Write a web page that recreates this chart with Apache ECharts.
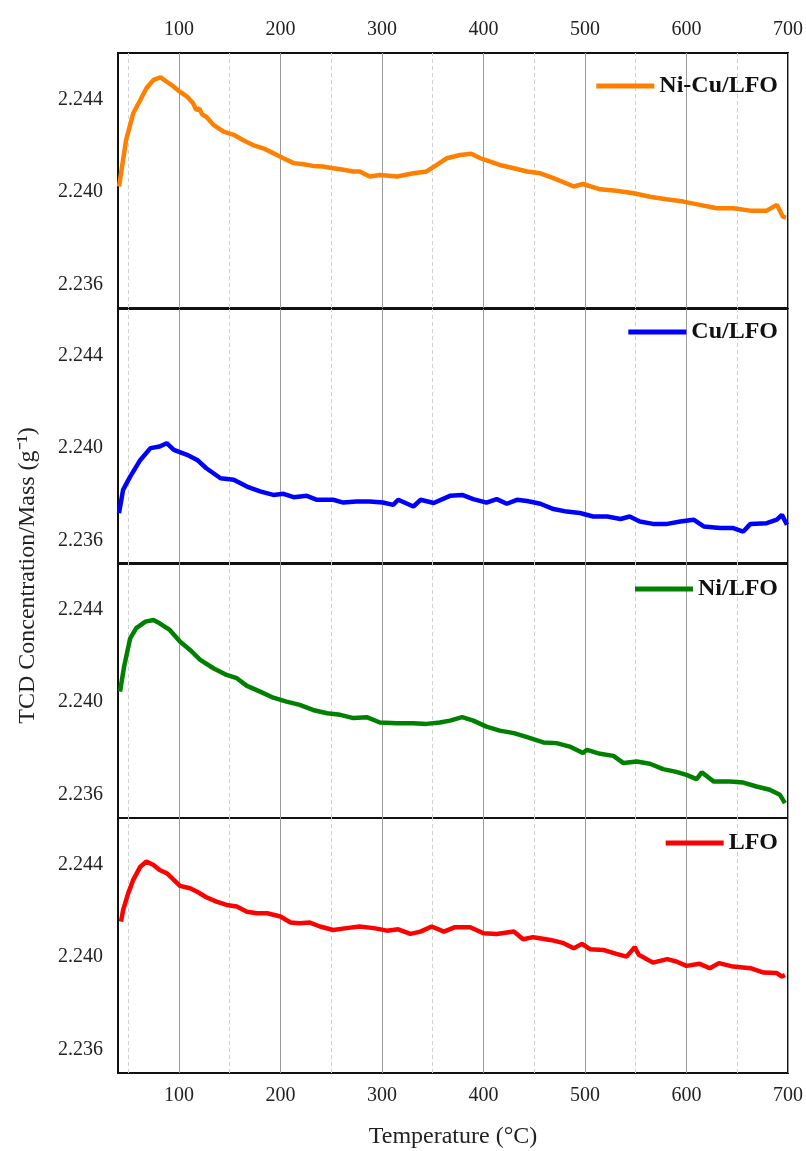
<!DOCTYPE html>
<html>
<head>
<meta charset="utf-8">
<title>TCD profiles</title>
<script src="https://cdn.jsdelivr.net/npm/echarts@6/dist/echarts.min.js"></script>
<style>
  html, body { margin: 0; padding: 0; background: #fff; }
  #chart { width: 806px; height: 1151px; }
</style>
</head>
<body>
<div id="chart"></div>
<script>
// [temperature (°C), TCD concentration / mass]
const nicuLfo = [[41,2.24024],[44,2.2411],[48,2.24225],[55,2.2434],[62,2.24397],[68,2.24448],[75,2.24484],[82,2.24495],[88,2.24476],[94,2.24458],[101,2.24433],[108,2.24412],[114,2.24383],[117,2.24355],[120,2.2436],[123,2.24335],[127,2.24325],[134,2.2429],[144,2.24261],[154,2.24247],[163,2.24225],[173,2.24203],[183,2.24189],[193,2.24168],[203,2.24146],[213,2.24125],[223,2.2412],[232,2.24113],[242,2.2411],[252,2.24103],[262,2.24096],[272,2.24089],[278,2.24089],[288,2.24067],[298,2.24074],[315,2.24067],[331,2.24081],[344,2.24089],[354,2.24117],[364,2.24146],[377,2.2416],[388,2.24165],[397,2.24146],[406,2.24132],[416,2.24117],[430,2.24103],[443,2.24089],[456,2.24081],[469,2.2406],[489,2.24024],[498,2.24035],[515,2.24012],[531,2.24006],[548,2.23995],[564,2.2398],[580,2.23969],[597,2.23959],[613,2.23945],[630,2.2393],[646,2.2393],[663,2.2392],[679,2.2392],[689,2.23945],[695,2.23894],[698,2.2389]];
const cuLfo = [[41,2.23719],[45,2.2382],[52,2.23877],[62,2.23949],[72,2.24],[81,2.24007],[88,2.24021],[95,2.23992],[108,2.23971],[118,2.23949],[127,2.23913],[141,2.2387],[154,2.23863],[167,2.23834],[180,2.23813],[193,2.23798],[203,2.23803],[213,2.23788],[226,2.23794],[236,2.23777],[252,2.23777],[262,2.23765],[275,2.2377],[288,2.2377],[301,2.23765],[311,2.23755],[316,2.23777],[331,2.23748],[338,2.23777],[351,2.23763],[367,2.23794],[379,2.23798],[390,2.2378],[403,2.23765],[413,2.2378],[423,2.2376],[433,2.23777],[443,2.23772],[456,2.2376],[469,2.23737],[482,2.23726],[495,2.2372],[508,2.23705],[522,2.23705],[535,2.23694],[544,2.23705],[554,2.23683],[567,2.23673],[581,2.23673],[594,2.23683],[607,2.23691],[617,2.23662],[633,2.23655],[646,2.23655],[656,2.2364],[663,2.23673],[679,2.23676],[689,2.23691],[694,2.23712],[699,2.23669]];
const niLfo = [[42,2.24045],[46,2.24153],[52,2.24275],[58,2.24319],[67,2.24347],[75,2.24354],[81,2.2434],[91,2.24311],[101,2.24261],[111,2.24225],[121,2.24182],[134,2.24146],[147,2.24117],[157,2.24103],[167,2.2407],[180,2.24045],[193,2.24019],[206,2.24002],[219,2.23988],[232,2.23966],[246,2.23952],[259,2.23945],[272,2.23931],[285,2.23935],[298,2.23912],[315,2.23909],[331,2.23909],[344,2.23906],[357,2.23912],[367,2.2392],[379,2.23935],[390,2.2392],[403,2.23894],[416,2.23877],[430,2.23866],[443,2.23849],[459,2.23826],[472,2.23823],[485,2.23808],[498,2.2378],[502,2.23794],[515,2.23777],[528,2.23768],[538,2.23737],[551,2.23744],[564,2.23734],[577,2.23711],[590,2.23699],[600,2.23686],[610,2.23668],[615,2.23697],[627,2.23657],[643,2.23657],[656,2.23653],[669,2.23636],[682,2.23622],[692,2.236],[697,2.23564]];
const lfo = [[43,2.24153],[45,2.24203],[50,2.24275],[55,2.24333],[62,2.2439],[68,2.24412],[75,2.24397],[81,2.24376],[88,2.24362],[95,2.24333],[101,2.24307],[111,2.24297],[118,2.24282],[127,2.24258],[137,2.24239],[147,2.24225],[157,2.24218],[167,2.24196],[177,2.24189],[187,2.24189],[200,2.24175],[210,2.24149],[219,2.24146],[229,2.24149],[239,2.24132],[252,2.24117],[265,2.24125],[278,2.24132],[292,2.24125],[305,2.24114],[316,2.2412],[328,2.241],[338,2.2411],[349,2.24132],[361,2.2411],[372,2.24129],[387,2.24129],[400,2.24103],[413,2.241],[430,2.2411],[439,2.24077],[449,2.24086],[466,2.24074],[479,2.2406],[489,2.24038],[497,2.24057],[505,2.24034],[518,2.24031],[531,2.24014],[541,2.24002],[549,2.24043],[553,2.2401],[567,2.23976],[581,2.23991],[590,2.23981],[600,2.23962],[613,2.23971],[623,2.23952],[632,2.23974],[646,2.23959],[663,2.23952],[676,2.23933],[689,2.23931],[694,2.23916],[697,2.23923]];

const seriesNames = ['Ni-Cu/LFO', 'Cu/LFO', 'Ni/LFO', 'LFO'];
const seriesData = [nicuLfo, cuLfo, niLfo, lfo];
const seriesColors = ['#ff8000', '#0000ff', '#008000', '#ff0000'];

const xTicks = [100, 200, 300, 400, 500, 600, 700];
const xMinorLines = [50, 150, 250, 350, 450, 550, 650];
const yTicks = [2.236, 2.240, 2.244];

const FONT = '"Liberation Serif", "Times New Roman", serif';
const panelTops = [53, 309, 563, 818];
const panelH = 255;
const legendTops = [74, 320, 577, 831];

const chart = echarts.init(document.getElementById('chart'));

const grids = [], xAxes = [], yAxes = [], series = [], legends = [];

// vertical grid lines, drawn as mark lines through the x scale
const gridLines = xTicks.map(v => ({
  xAxis: v, lineStyle: { color: '#9a9a9a', width: 1, type: 'solid' }
})).concat(xMinorLines.map(v => ({
  xAxis: v, lineStyle: { color: '#cfcfcf', width: 1, type: [4, 3] }
})));

for (let i = 0; i < 4; i++) {
  grids.push({
    left: 118, right: 18, top: panelTops[i], height: panelH,
    show: true, borderColor: '#111', borderWidth: 2, backgroundColor: 'transparent'
  });
  const isTop = i === 0, isBottom = i === 3;
  xAxes.push({
    type: 'value', gridIndex: i, min: 40, max: 700,
    position: isTop ? 'top' : 'bottom',
    axisLine: { show: false }, axisTick: { show: false }, splitLine: { show: false },
    axisLabel: {
      show: isTop || isBottom, customValues: xTicks, margin: 13,
      color: '#222', fontFamily: FONT, fontSize: 20
    },
    name: isBottom ? 'Temperature (°C)' : '',
    nameLocation: 'middle', nameGap: 52,
    nameTextStyle: { color: '#222', fontFamily: FONT, fontSize: 24 }
  });
  yAxes.push({
    type: 'value', gridIndex: i, min: 2.235, max: 2.246,
    axisLine: { show: false }, axisTick: { show: false }, splitLine: { show: false },
    axisLabel: {
      customValues: yTicks, margin: 15, color: '#222', fontFamily: FONT, fontSize: 20,
      formatter: v => v.toFixed(3)
    }
  });
  series.push({
    name: seriesNames[i], type: 'line', xAxisIndex: i, yAxisIndex: i,
    data: seriesData[i], showSymbol: false, symbol: 'none', z: 3,
    lineStyle: { color: seriesColors[i], width: 4.5 },
    itemStyle: { color: seriesColors[i] },
    animation: false,
    markLine: {
      silent: true, symbol: ['none', 'none'], label: { show: false }, z: 1,
      animation: false, data: gridLines
    }
  });
  legends.push({
    data: [seriesNames[i]], right: 28, top: legendTops[i], padding: 0,
    icon: 'rect', itemWidth: 58, itemHeight: 5,
    textStyle: { color: '#111', fontFamily: FONT, fontSize: 24, fontWeight: 'bold' }
  });
}

chart.setOption({
  backgroundColor: '#fff',
  animation: false,
  grid: grids,
  xAxis: xAxes,
  yAxis: yAxes,
  legend: legends,
  series: series,
  graphic: [{
    type: 'text', left: 16, top: 'middle', rotation: Math.PI / 2,
    style: {
      text: 'TCD Concentration/Mass (g⁻¹)',
      fill: '#222', font: '24px ' + FONT
    }
  }]
});
</script>
</body>
</html>
